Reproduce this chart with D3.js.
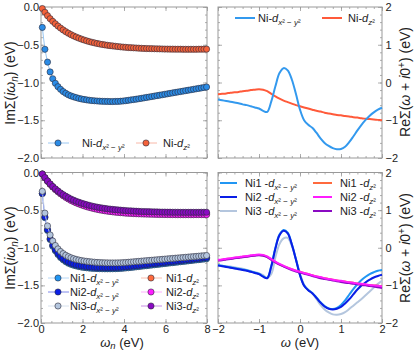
<!DOCTYPE html>
<html>
<head>
<meta charset="utf-8">
<script src="https://cdn.jsdelivr.net/npm/d3@7"></script>
<style>
body{margin:0;background:#fff}
svg{display:block}
text{font-family:"Liberation Sans",Arial,sans-serif;fill:#222}
</style>
</head>
<body>
<div id="chart"></div>
<script>
// Matsubara frequencies (eV)
const wn = [0.063,0.188,0.314,0.440,0.565,0.691,0.817,0.942,1.068,1.194,1.319,1.445,1.571,1.696,1.822,1.948,
  2.073,2.199,2.325,2.450,2.576,2.702,2.827,2.953,3.079,3.204,3.330,3.456,3.581,3.707,3.833,3.958,
  4.084,4.210,4.335,4.461,4.587,4.712,4.838,4.964,5.089,5.215,5.341,5.466,5.592,5.718,5.843,5.969,
  6.095,6.220,6.346,6.472,6.597,6.723,6.849,6.974,7.100,7.226,7.351,7.477,7.603,7.728,7.854,7.980];

// top left: Im Sigma(i wn)
const imNiDx2 = [-0.27,-0.56,-0.73,-0.86,-0.95,-1.01,-1.055,-1.09,-1.12,-1.143,-1.163,-1.178,-1.19,-1.20,-1.21,-1.218,
  -1.224,-1.23,-1.235,-1.239,-1.242,-1.245,-1.247,-1.249,-1.25,-1.251,-1.252,-1.252,-1.251,-1.25,-1.248,-1.245,
  -1.241,-1.236,-1.231,-1.226,-1.221,-1.215,-1.21,-1.204,-1.198,-1.192,-1.186,-1.18,-1.174,-1.168,-1.162,-1.156,
  -1.15,-1.144,-1.138,-1.132,-1.126,-1.12,-1.114,-1.108,-1.102,-1.096,-1.09,-1.084,-1.078,-1.072,-1.066,-1.06];
const imNiDz2 = [-0.02,-0.07,-0.115,-0.155,-0.19,-0.222,-0.252,-0.279,-0.304,-0.327,-0.347,-0.366,-0.383,-0.398,-0.412,-0.425,
  -0.437,-0.448,-0.458,-0.467,-0.475,-0.483,-0.49,-0.496,-0.502,-0.507,-0.512,-0.516,-0.52,-0.524,-0.528,-0.531,
  -0.534,-0.537,-0.539,-0.541,-0.543,-0.545,-0.547,-0.549,-0.55,-0.551,-0.552,-0.553,-0.554,-0.555,-0.556,-0.557,
  -0.557,-0.558,-0.558,-0.559,-0.559,-0.559,-0.56,-0.56,-0.56,-0.56,-0.56,-0.56,-0.559,-0.559,-0.559,-0.558];

// bottom left: three Ni sites
const imNi1Dx2 = [-0.28,-0.60,-0.77,-0.89,-0.98,-1.04,-1.09,-1.13,-1.16,-1.185,-1.205,-1.22,-1.232,-1.242,-1.25,-1.257,
  -1.262,-1.266,-1.27,-1.273,-1.275,-1.277,-1.278,-1.279,-1.28,-1.28,-1.28,-1.279,-1.278,-1.277,-1.275,-1.272,
  -1.269,-1.266,-1.262,-1.258,-1.254,-1.25,-1.246,-1.242,-1.238,-1.234,-1.23,-1.226,-1.222,-1.218,-1.214,-1.21,
  -1.206,-1.202,-1.198,-1.194,-1.19,-1.186,-1.182,-1.178,-1.174,-1.17,-1.166,-1.162,-1.158,-1.154,-1.15,-1.146];
const imNi2Dx2 = [-0.28,-0.59,-0.76,-0.88,-0.965,-1.025,-1.075,-1.115,-1.145,-1.17,-1.19,-1.205,-1.217,-1.227,-1.235,-1.242,
  -1.247,-1.251,-1.255,-1.258,-1.26,-1.262,-1.263,-1.264,-1.265,-1.265,-1.265,-1.264,-1.263,-1.262,-1.26,-1.257,
  -1.254,-1.251,-1.247,-1.243,-1.239,-1.235,-1.231,-1.227,-1.223,-1.219,-1.215,-1.211,-1.207,-1.203,-1.199,-1.195,
  -1.191,-1.187,-1.183,-1.179,-1.175,-1.171,-1.167,-1.163,-1.159,-1.155,-1.151,-1.147,-1.143,-1.139,-1.135,-1.131];
const imNi3Dx2 = [-0.25,-0.54,-0.71,-0.83,-0.91,-0.97,-1.015,-1.05,-1.078,-1.1,-1.118,-1.133,-1.145,-1.155,-1.163,-1.17,
  -1.176,-1.181,-1.185,-1.189,-1.192,-1.195,-1.197,-1.199,-1.2,-1.201,-1.202,-1.202,-1.202,-1.201,-1.2,-1.198,
  -1.196,-1.193,-1.19,-1.187,-1.184,-1.181,-1.178,-1.175,-1.172,-1.169,-1.166,-1.163,-1.16,-1.157,-1.154,-1.151,
  -1.148,-1.145,-1.142,-1.139,-1.136,-1.133,-1.13,-1.127,-1.124,-1.121,-1.118,-1.115,-1.112,-1.109,-1.106,-1.103];
const imNi1Dz2 = [-0.02,-0.07,-0.115,-0.155,-0.19,-0.222,-0.251,-0.277,-0.301,-0.323,-0.343,-0.361,-0.378,-0.393,-0.407,-0.42,
  -0.431,-0.442,-0.452,-0.461,-0.469,-0.476,-0.483,-0.489,-0.495,-0.5,-0.505,-0.509,-0.513,-0.517,-0.52,-0.523,
  -0.526,-0.529,-0.531,-0.533,-0.535,-0.537,-0.539,-0.54,-0.541,-0.542,-0.543,-0.544,-0.545,-0.546,-0.547,-0.547,
  -0.548,-0.548,-0.549,-0.549,-0.549,-0.55,-0.55,-0.55,-0.55,-0.55,-0.55,-0.55,-0.55,-0.549,-0.549,-0.549];
const imNi2Dz2 = [-0.02,-0.07,-0.116,-0.157,-0.193,-0.226,-0.256,-0.283,-0.308,-0.331,-0.352,-0.371,-0.388,-0.404,-0.418,-0.431,
  -0.443,-0.454,-0.464,-0.473,-0.482,-0.49,-0.497,-0.503,-0.509,-0.514,-0.519,-0.523,-0.527,-0.531,-0.534,-0.537,
  -0.54,-0.542,-0.544,-0.546,-0.548,-0.55,-0.551,-0.552,-0.553,-0.554,-0.555,-0.556,-0.557,-0.558,-0.558,-0.559,
  -0.559,-0.56,-0.56,-0.56,-0.561,-0.561,-0.561,-0.561,-0.561,-0.561,-0.561,-0.56,-0.56,-0.56,-0.56,-0.56];
const imNi3Dz2 = [-0.02,-0.068,-0.112,-0.151,-0.186,-0.217,-0.245,-0.271,-0.294,-0.315,-0.334,-0.352,-0.368,-0.382,-0.395,-0.407,
  -0.418,-0.428,-0.437,-0.445,-0.453,-0.46,-0.466,-0.472,-0.477,-0.482,-0.486,-0.49,-0.494,-0.497,-0.5,-0.503,
  -0.506,-0.508,-0.51,-0.512,-0.514,-0.516,-0.518,-0.519,-0.52,-0.521,-0.522,-0.523,-0.524,-0.525,-0.526,-0.526,
  -0.527,-0.527,-0.528,-0.528,-0.528,-0.529,-0.529,-0.529,-0.529,-0.529,-0.529,-0.529,-0.529,-0.528,-0.528,-0.528];

// real frequencies (eV)
const w = [-2.0,-1.9,-1.8,-1.7,-1.6,-1.5,-1.4,-1.3,-1.2,-1.1,-1.0,-0.9,-0.8,-0.7,-0.6,-0.5,-0.4,-0.3,-0.2,-0.1,
  0.0,0.1,0.2,0.3,0.4,0.5,0.6,0.7,0.8,0.9,1.0,1.1,1.2,1.3,1.4,1.5,1.6,1.7,1.8,1.9,2.0];

// top right: Re Sigma(w + i0+)
const reNiDx2 = [-0.45,-0.47,-0.49,-0.51,-0.53,-0.55,-0.58,-0.60,-0.63,-0.66,-0.69,-0.75,-0.78,-0.50,-0.10,0.25,0.38,0.32,0.08,-0.30,
  -0.72,-1.00,-1.12,-1.20,-1.33,-1.48,-1.60,-1.68,-1.74,-1.77,-1.76,-1.70,-1.58,-1.43,-1.27,-1.12,-0.99,-0.88,-0.79,-0.72,-0.67];
const reNiDz2 = [-0.31,-0.30,-0.29,-0.27,-0.26,-0.25,-0.23,-0.22,-0.20,-0.19,-0.18,-0.19,-0.23,-0.30,-0.37,-0.43,-0.48,-0.52,-0.56,-0.60,
  -0.63,-0.66,-0.69,-0.72,-0.75,-0.77,-0.80,-0.82,-0.84,-0.86,-0.87,-0.89,-0.90,-0.92,-0.93,-0.95,-0.96,-0.97,-0.98,-0.99,-1.00];

// bottom right
const reNi1Dx2 = [-0.46,-0.48,-0.50,-0.52,-0.54,-0.56,-0.58,-0.60,-0.63,-0.66,-0.69,-0.76,-0.80,-0.48,0.00,0.35,0.47,0.40,0.10,-0.30,
  -0.72,-1.00,-1.12,-1.20,-1.32,-1.45,-1.55,-1.61,-1.63,-1.60,-1.52,-1.40,-1.25,-1.10,-0.97,-0.86,-0.77,-0.70,-0.65,-0.61,-0.59];
const reNi2Dx2 = [-0.47,-0.49,-0.51,-0.53,-0.55,-0.57,-0.59,-0.61,-0.64,-0.67,-0.70,-0.77,-0.81,-0.50,-0.02,0.33,0.45,0.38,0.09,-0.31,
  -0.73,-1.01,-1.13,-1.21,-1.33,-1.46,-1.56,-1.62,-1.64,-1.62,-1.57,-1.48,-1.37,-1.24,-1.11,-1.00,-0.92,-0.85,-0.79,-0.75,-0.72];
const reNi3Dx2 = [-0.47,-0.48,-0.49,-0.50,-0.52,-0.54,-0.56,-0.59,-0.62,-0.65,-0.68,-0.73,-0.80,-0.70,-0.25,0.10,0.25,0.26,0.05,-0.30,
  -0.68,-0.98,-1.12,-1.22,-1.36,-1.52,-1.64,-1.72,-1.77,-1.78,-1.76,-1.71,-1.63,-1.54,-1.45,-1.36,-1.26,-1.16,-1.06,-0.96,-0.88];
const reNi1Dz2 = [-0.33,-0.32,-0.30,-0.29,-0.27,-0.26,-0.24,-0.23,-0.21,-0.20,-0.19,-0.20,-0.24,-0.31,-0.38,-0.44,-0.49,-0.53,-0.57,-0.61,
  -0.64,-0.67,-0.70,-0.73,-0.76,-0.79,-0.81,-0.83,-0.85,-0.87,-0.89,-0.90,-0.92,-0.93,-0.95,-0.96,-0.98,-0.99,-1.00,-1.01,-1.02];
const reNi2Dz2 = [-0.32,-0.31,-0.29,-0.28,-0.26,-0.25,-0.23,-0.22,-0.20,-0.19,-0.18,-0.19,-0.23,-0.30,-0.37,-0.43,-0.48,-0.53,-0.57,-0.61,
  -0.64,-0.67,-0.70,-0.73,-0.76,-0.78,-0.81,-0.83,-0.85,-0.87,-0.88,-0.90,-0.92,-0.93,-0.95,-0.96,-0.97,-0.99,-1.00,-1.01,-1.03];
const reNi3Dz2 = [-0.34,-0.33,-0.31,-0.30,-0.28,-0.27,-0.25,-0.24,-0.22,-0.21,-0.20,-0.21,-0.25,-0.32,-0.39,-0.45,-0.50,-0.55,-0.59,-0.63,
  -0.66,-0.69,-0.72,-0.75,-0.78,-0.81,-0.83,-0.85,-0.87,-0.89,-0.91,-0.93,-0.94,-0.96,-0.97,-0.99,-1.00,-1.02,-1.03,-1.05,-1.07];

// tick values
const imTicksY = [0,-0.5,-1,-1.5,-2];
const wnTicks = [0,2,4,6,8];
const reTicksY = [2,1,0,-1,-2];
const wTicks = [-2,-1,0,1,2];

const W = 415, H = 350;
const svg = d3.select("#chart").append("svg").attr("width", W).attr("height", H);

const xIm = d3.scaleLinear().domain([0,8]).range([41,207]);
const xRe = d3.scaleLinear().domain([-2,2]).range([218,382]);
const yImTop = d3.scaleLinear().domain([-2,0]).range([158,7]);
const yImBot = d3.scaleLinear().domain([-2,0]).range([323,172.5]);
const yReTop = d3.scaleLinear().domain([-2,2]).range([158,7]);
const yReBot = d3.scaleLinear().domain([-2,2]).range([323,172.5]);

const TICK = "#999";

// frame with inward ticks on all four sides
function frame(x, y, o){
  const g = svg.append("g");
  const [x0,x1] = x.range(), [y0,y1] = y.range();
  const put = (axis, tx, ty, vals, size, fmt, pad) => {
    const a = g.append("g").attr("transform", `translate(${tx},${ty})`)
      .call(axis.tickValues(vals).tickSize(size).tickPadding(pad || 2).tickFormat(fmt || (()=>"")));
    a.select(".domain").remove();
    a.selectAll("line").attr("stroke", TICK).attr("stroke-width", 0.8);
    a.selectAll("text").style("font-size","11px").attr("fill","#222");
  };
  put(d3.axisBottom(x), 0, y0, o.xMajor, -4, o.xFmt);
  put(d3.axisBottom(x), 0, y0, o.xMinor, -2);
  put(d3.axisTop(x), 0, y1, o.xMajor, -4);
  put(d3.axisTop(x), 0, y1, o.xMinor, -2);
  put(d3.axisLeft(y), x0, 0, o.yMajor, -4, o.leftFmt);
  put(d3.axisLeft(y), x0, 0, o.yMinor, -2);
  put(d3.axisRight(y), x1, 0, o.yMajor, -4, o.rightFmt, 3.5);
  put(d3.axisRight(y), x1, 0, o.yMinor, -2);
  g.append("rect").attr("x", x0).attr("y", y1).attr("width", x1-x0).attr("height", y0-y1)
    .attr("fill","none").attr("stroke", TICK).attr("stroke-width", 1);
}

const imMinorY = d3.range(0, 21).map(i => -i*0.1);
const wnMinor = d3.range(0, 17).map(i => i*0.5);
const reMinorY = d3.range(0, 21).map(i => -2 + i*0.2);
const wMinor = d3.range(0, 21).map(i => -2 + i*0.2);
const f1 = d3.format(".1f"), f0 = d3.format("d");

frame(xIm, yImTop, {xMajor: wnTicks, xMinor: wnMinor, yMajor: imTicksY, yMinor: imMinorY, leftFmt: f1});
frame(xIm, yImBot, {xMajor: wnTicks, xMinor: wnMinor, yMajor: imTicksY, yMinor: imMinorY, leftFmt: f1, xFmt: f0});
frame(xRe, yReTop, {xMajor: wTicks, xMinor: wMinor, yMajor: reTicksY, yMinor: reMinorY, rightFmt: f0});
frame(xRe, yReBot, {xMajor: wTicks, xMinor: wMinor, yMajor: reTicksY, yMinor: reMinorY, rightFmt: f0, xFmt: f0});

// orbital label: prefix + d_{x2-y2} or d_{z2}
function orbLabel(t, prefix, orb){
  t.append("tspan").text(prefix);
  t.append("tspan").attr("font-style","italic").text("d");
  const s = t.append("tspan").attr("dy", 3).style("font-size","8px");
  if (orb === "x"){
    s.append("tspan").attr("font-style","italic").text("x");
    s.append("tspan").text("\u00b2 \u2212 ");
    s.append("tspan").attr("font-style","italic").text("y");
    s.append("tspan").text("\u00b2");
  } else {
    s.append("tspan").attr("font-style","italic").text("z");
    s.append("tspan").text("\u00b2");
  }
}

// Matsubara series with markers
function markerSeries(x, y, vals, fill, lineCol){
  const pts = wn.map((v,i)=>[v, vals[i]]);
  svg.append("path").datum(pts)
    .attr("fill","none").attr("stroke", lineCol).attr("stroke-width", 0.9)
    .attr("d", d3.line().x(d=>x(d[0])).y(d=>y(d[1])));
  svg.append("g").selectAll("circle").data(pts).join("circle")
    .attr("cx", d=>x(d[0])).attr("cy", d=>y(d[1])).attr("r", 3.1)
    .attr("fill", fill).attr("stroke", "#2a2a3a").attr("stroke-width", 0.6);
}

function lineSeries(x, y, vals, col){
  const pts = w.map((v,i)=>[v, vals[i]]);
  svg.append("path").datum(pts)
    .attr("fill","none").attr("stroke", col).attr("stroke-width", 2)
    .attr("d", d3.line().curve(d3.curveCatmullRom).x(d=>x(d[0])).y(d=>y(d[1])));
}

function legMarker(lx, ly, fill, lineCol, prefix, orb, tx){
  svg.append("line").attr("x1", lx-10).attr("x2", lx+11).attr("y1", ly).attr("y2", ly)
    .attr("stroke", lineCol).attr("stroke-width", 1);
  svg.append("circle").attr("cx", lx).attr("cy", ly).attr("r", 3.1)
    .attr("fill", fill).attr("stroke", "#2a2a3a").attr("stroke-width", 0.6);
  const t = svg.append("text").attr("x", tx).attr("y", ly+3.5).style("font-size","11px");
  orbLabel(t, prefix, orb);
}

function legLine(lx1, lx2, ly, col, prefix, orb, tx){
  svg.append("line").attr("x1", lx1).attr("x2", lx2).attr("y1", ly).attr("y2", ly)
    .attr("stroke", col).attr("stroke-width", 2);
  const t = svg.append("text").attr("x", tx).attr("y", ly+3.5).style("font-size","11px");
  orbLabel(t, prefix, orb);
}

// colours
const cBlue = "#2b8ce6", cRed = "#f4623a";
const cNi1x = "#2196f3", cNi2x = "#0a1ee6", cNi3x = "#b4c6de";
const cNi1z = "#ff6a3d", cNi2z = "#ff1cff", cNi3z = "#8a0ac2";

// top left
markerSeries(xIm, yImTop, imNiDx2, cBlue, "#8cc0f0");
markerSeries(xIm, yImTop, imNiDz2, cRed, "#f8b0a0");
legMarker(58, 143, cBlue, "#9cc8f2", "Ni-", "x", 82);
legMarker(146, 143, cRed, "#f8b8a8", "Ni-", "z", 163);

// bottom left
markerSeries(xIm, yImBot, imNi1Dx2, cNi1x, "#a8d0f4");
markerSeries(xIm, yImBot, imNi2Dx2, cNi2x, "#6f7ae8");
markerSeries(xIm, yImBot, imNi3Dx2, cNi3x, "#d4deea");
markerSeries(xIm, yImBot, imNi1Dz2, cNi1z, "#f8b8a8");
markerSeries(xIm, yImBot, imNi2Dz2, cNi2z, "#ffa0ff");
markerSeries(xIm, yImBot, imNi3Dz2, cNi3z, "#c080e0");
legMarker(58, 278, cNi1x, "#b8d8f6", "Ni1-", "x", 70);
legMarker(58, 292, cNi2x, "#7f88ea", "Ni2-", "x", 70);
legMarker(58, 306, cNi3x, "#d8e2ee", "Ni3-", "x", 70);
legMarker(151, 278, cNi1z, "#f8c0b0", "Ni1-", "z", 166);
legMarker(151, 292, cNi2z, "#ffb0ff", "Ni2-", "z", 166);
legMarker(151, 306, cNi3z, "#c890e4", "Ni3-", "z", 166);

// top right
lineSeries(xRe, yReTop, reNiDz2, "#ff5a3a");
lineSeries(xRe, yReTop, reNiDx2, "#3399ee");
legLine(235, 255, 18, "#3399ee", "Ni-", "x", 258);
legLine(322, 342, 18, "#ff5a3a", "Ni-", "z", 348);

// bottom right
lineSeries(xRe, yReBot, reNi3Dx2, cNi3x);
lineSeries(xRe, yReBot, reNi1Dx2, cNi1x);
lineSeries(xRe, yReBot, reNi2Dx2, cNi2x);
lineSeries(xRe, yReBot, reNi1Dz2, cNi1z);
lineSeries(xRe, yReBot, reNi3Dz2, cNi3z);
lineSeries(xRe, yReBot, reNi2Dz2, cNi2z);
legLine(220, 237, 183, cNi1x, "Ni1 -", "x", 245);
legLine(220, 237, 197, cNi2x, "Ni2 -", "x", 245);
legLine(220, 237, 211, cNi3x, "Ni3 -", "x", 245);
legLine(313, 332, 183, cNi1z, "Ni1 -", "z", 340);
legLine(313, 332, 197, cNi2z, "Ni2 -", "z", 340);
legLine(313, 332, 211, cNi3z, "Ni3 -", "z", 340);

// axis titles
const TS = "14px";
function imTitle(cx, cy){
  const t = svg.append("text").attr("transform", `translate(${cx},${cy}) rotate(-90)`)
    .attr("text-anchor","middle").style("font-size",TS);
  t.append("tspan").text("Im\u03a3(");
  t.append("tspan").attr("font-style","italic").text("i\u03c9");
  t.append("tspan").attr("dy", 3).style("font-size","10px").attr("font-style","italic").text("n");
  t.append("tspan").attr("dy", -3).text(") (eV)");
}
function reTitle(cx, cy){
  const t = svg.append("text").attr("transform", `translate(${cx},${cy}) rotate(-90)`)
    .attr("text-anchor","middle").style("font-size",TS);
  t.append("tspan").text("Re\u03a3(");
  t.append("tspan").attr("font-style","italic").text("\u03c9");
  t.append("tspan").text(" + ");
  t.append("tspan").attr("font-style","italic").text("i");
  t.append("tspan").text("0");
  t.append("tspan").attr("dy", -5).style("font-size","10px").text("+");
  t.append("tspan").attr("dy", 5).text(") (eV)");
}
imTitle(15, 83);
imTitle(15, 248);
reTitle(410, 82);
reTitle(410, 248);

const XS = "13px";
const xt1 = svg.append("text").attr("x", 122).attr("y", 346.5).attr("text-anchor","middle").style("font-size",XS);
xt1.append("tspan").attr("font-style","italic").text("\u03c9");
xt1.append("tspan").attr("dy", 2).style("font-size","9.5px").attr("font-style","italic").text("n");
xt1.append("tspan").attr("dy", -2).text(" (eV)");
const xt2 = svg.append("text").attr("x", 300).attr("y", 346.5).attr("text-anchor","middle").style("font-size",XS);
xt2.append("tspan").attr("font-style","italic").text("\u03c9");
xt2.append("tspan").text(" (eV)");
</script>
</body>
</html>
